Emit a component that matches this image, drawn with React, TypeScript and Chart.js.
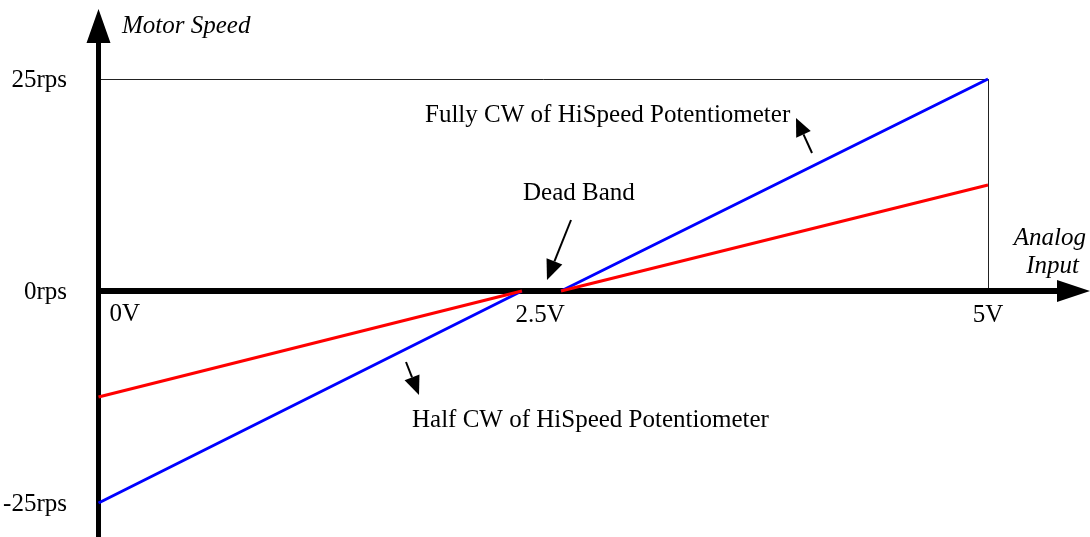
import React, { useEffect, useRef } from "react";
import { Chart, registerables } from "chart.js";

Chart.register(...registerables);

// Data (volts -> rps); null breaks the line at the dead band
const fullX = [0, 2.38, null, 2.6, 5];
const fullY = [-25, 0, null, 0, 25];
const halfX = [0, 2.38, null, 2.6, 5];
const halfY = [-12.5, 0, null, 0, 12.5];

const yTickValues = [25, 0, -25];
const yTickLabels = ["25rps", "0rps", "-25rps"];
const xTickValues = [0, 2.5, 5];
const xTickLabels = ["0V", "2.5V", "5V"];

const X_MIN = -0.5537;
const X_MAX = 5.5734;
const Y_MIN = -29.01;
const Y_MAX = 34.316;
const X_END = 5;
const Y_TOP = 25;

const FONT = "25px 'Liberation Serif', 'Times New Roman', serif";
const IFONT = "italic 25px 'Liberation Serif', 'Times New Roman', serif";

function toPoints(xs: (number | null)[], ys: (number | null)[]) {
  return xs.map((x, i) => ({ x: x === null ? 2.49 : x, y: ys[i] }));
}

function arrow(ctx: CanvasRenderingContext2D, x1: number, y1: number, x2: number, y2: number, len: number, half: number, lw: number) {
  const ang = Math.atan2(y2 - y1, x2 - x1);
  const bx = x2 - len * Math.cos(ang);
  const by = y2 - len * Math.sin(ang);
  ctx.save();
  ctx.strokeStyle = "#000";
  ctx.fillStyle = "#000";
  ctx.lineWidth = lw;
  ctx.beginPath();
  ctx.moveTo(x1, y1);
  ctx.lineTo(bx, by);
  ctx.stroke();
  ctx.beginPath();
  ctx.moveTo(x2, y2);
  ctx.lineTo(bx + half * Math.sin(ang), by - half * Math.cos(ang));
  ctx.lineTo(bx - half * Math.sin(ang), by + half * Math.cos(ang));
  ctx.closePath();
  ctx.fill();
  ctx.restore();
}

const axesPlugin = {
  id: "axesPlugin",
  beforeDatasetsDraw(chart: any) {
    const ctx: CanvasRenderingContext2D = chart.ctx;
    const xs = chart.scales.x;
    const ys = chart.scales.y;
    const x0 = xs.getPixelForValue(0);
    const y0 = ys.getPixelForValue(0);
    const x5 = xs.getPixelForValue(X_END);
    const y25 = ys.getPixelForValue(Y_TOP);
    const W = chart.width;
    const H = chart.height;
    ctx.save();
    // thin guide lines
    ctx.strokeStyle = "#222";
    ctx.lineWidth = 1;
    ctx.beginPath();
    ctx.moveTo(x0, Math.round(y25) + 0.5);
    ctx.lineTo(x5, Math.round(y25) + 0.5);
    ctx.moveTo(Math.round(x5) + 0.5, y25);
    ctx.lineTo(Math.round(x5) + 0.5, y0);
    ctx.stroke();
    // y axis
    ctx.fillStyle = "#000";
    ctx.fillRect(x0 - 2.5, 40, 5, H - 40);
    ctx.beginPath();
    ctx.moveTo(x0, 9);
    ctx.lineTo(x0 + 12, 43);
    ctx.lineTo(x0 - 12, 43);
    ctx.closePath();
    ctx.fill();
    // x axis
    ctx.fillRect(x0 - 2.5, y0 - 3, 1060 - x0, 6);
    ctx.beginPath();
    ctx.moveTo(W, y0);
    ctx.lineTo(1057, y0 - 11);
    ctx.lineTo(1057, y0 + 11);
    ctx.closePath();
    ctx.fill();
    ctx.restore();
  },
  afterDatasetsDraw(chart: any) {
    const ctx: CanvasRenderingContext2D = chart.ctx;
    const xs = chart.scales.x;
    const ys = chart.scales.y;
    ctx.save();
    ctx.fillStyle = "#000";
    ctx.font = FONT;
    ctx.textBaseline = "alphabetic";
    // y tick labels
    ctx.textAlign = "right";
    yTickValues.forEach((v, i) => {
      ctx.fillText(yTickLabels[i], 67, ys.getPixelForValue(v) + 8);
    });
    // x tick labels
    const yb = ys.getPixelForValue(0) + 31;
    xTickValues.forEach((v, i) => {
      const px = xs.getPixelForValue(v);
      if (i === 0) {
        ctx.textAlign = "left";
        ctx.fillText(xTickLabels[i], px + 11, yb - 1);
      } else {
        ctx.textAlign = "center";
        ctx.fillText(xTickLabels[i], px - 3 * (i === 1 ? 1 : 0), yb);
      }
    });
    // axis titles
    ctx.font = IFONT;
    ctx.textAlign = "left";
    ctx.fillText("Motor Speed", 122, 33);
    ctx.textAlign = "right";
    ctx.fillText("Analog", 1086, 245);
    ctx.fillText("Input", 1079, 273);
    // annotations
    ctx.font = FONT;
    ctx.textAlign = "left";
    ctx.fillText("Fully CW of HiSpeed Potentiometer", 425, 122);
    ctx.fillText("Dead Band", 523, 200);
    ctx.fillText("Half CW of HiSpeed Potentiometer", 412, 427);
    ctx.restore();
    arrow(ctx, 812, 153, 796, 118, 18, 8, 2);
    arrow(ctx, 571, 220, 547, 280, 20, 8.5, 2);
    arrow(ctx, 406, 362, 419, 395, 19, 8, 2);
  },
};

export default function App() {
  const ref = useRef<HTMLCanvasElement | null>(null);
  useEffect(() => {
    if (!ref.current) return;
    const chart = new Chart(ref.current, {
      type: "scatter",
      data: {
        datasets: [
          {
            label: "Half CW",
            data: toPoints(halfX, halfY) as any,
            showLine: true,
            borderColor: "#ff0000",
            borderWidth: 3,
            pointRadius: 0,
            spanGaps: false,
          },
          {
            label: "Fully CW",
            data: toPoints(fullX, fullY) as any,
            showLine: true,
            borderColor: "#0000ff",
            borderWidth: 3,
            pointRadius: 0,
            spanGaps: false,
          },
        ],
      },
      options: {
        animation: false,
        responsive: false,
        maintainAspectRatio: false,
        layout: { padding: 0 },
        plugins: { legend: { display: false }, tooltip: { enabled: false } },
        scales: {
          x: { type: "linear", min: X_MIN, max: X_MAX, display: false },
          y: { type: "linear", min: Y_MIN, max: Y_MAX, display: false },
        },
      },
      plugins: [axesPlugin],
    });
    return () => chart.destroy();
  }, []);
  return (
    <div style={{ position: "fixed", left: 0, top: 0, width: 1090, height: 537, background: "#fff" }}>
      <canvas ref={ref} width={1090} height={537} style={{ display: "block" }} />
    </div>
  );
}
